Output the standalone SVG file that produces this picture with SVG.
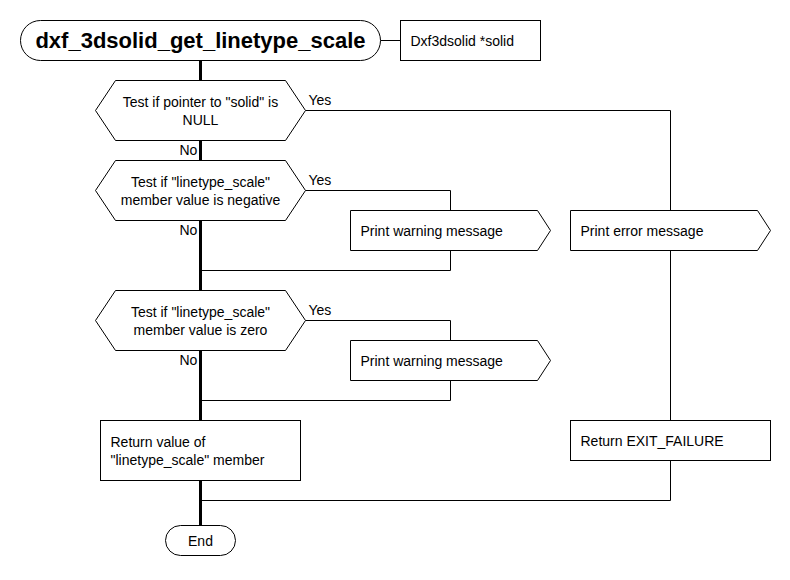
<svg xmlns="http://www.w3.org/2000/svg" width="790" height="580" viewBox="0 0 790 580">
<style>
  text { font-family: "Liberation Sans", Arial, sans-serif; font-size: 14px; fill: #000; dominant-baseline: central; }
  .c { text-anchor: middle; }
  .title { font-size: 22px; font-weight: bold; }
  .shape { fill: #fff; stroke: #000; stroke-width: 1; }
  .ln { fill: none; stroke: #000; stroke-width: 1; }
  .main { fill: none; stroke: #000; stroke-width: 3; }
</style>
<rect width="790" height="580" fill="#fff"/>
<g transform="translate(0.5,0.5)">
<g id="connectors">
  <line class="main" x1="200" y1="60" x2="200" y2="525"/>
  <line class="ln" x1="380" y1="40" x2="400" y2="40"/>
  <polyline class="ln" points="305,110 670,110 670,210"/>
  <line class="ln" x1="670" y1="250" x2="670" y2="420"/>
  <polyline class="ln" points="670,460 670,500 200,500"/>
  <polyline class="ln" points="305,190 450,190 450,210"/>
  <polyline class="ln" points="450,250 450,270 200,270"/>
  <polyline class="ln" points="305,320 450,320 450,340"/>
  <polyline class="ln" points="450,380 450,400 200,400"/>
  <text x="308" y="99">Yes</text>
  <text x="179" y="149">No</text>
  <text x="308" y="179">Yes</text>
  <text x="179" y="229">No</text>
  <text x="308" y="309">Yes</text>
  <text x="179" y="359">No</text>
</g>
<g id="start">
  <rect class="shape" x="20" y="20" width="360" height="40" rx="20" ry="20"/>
  <text class="c title" x="200" y="40">dxf_3dsolid_get_linetype_scale</text>
</g>
<g id="param">
  <rect class="shape" x="400" y="20" width="140" height="40"/>
  <text x="410" y="40">Dxf3dsolid *solid</text>
</g>
<g id="test-null">
  <polygon class="shape" points="95,110 115,80 285,80 305,110 285,140 115,140"/>
  <text class="c" x="200" y="101">Test if pointer to "solid" is</text>
  <text class="c" x="200" y="119">NULL</text>
</g>
<g id="test-negative">
  <polygon class="shape" points="95,190 115,160 285,160 305,190 285,220 115,220"/>
  <text class="c" x="200" y="181">Test if "linetype_scale"</text>
  <text class="c" x="200" y="199">member value is negative</text>
</g>
<g id="warn1">
  <polygon class="shape" points="350,210 537,210 550,230 537,250 350,250"/>
  <text x="360" y="230">Print warning message</text>
</g>
<g id="error">
  <polygon class="shape" points="570,210 757,210 770,230 757,250 570,250"/>
  <text x="580" y="230">Print error message</text>
</g>
<g id="test-zero">
  <polygon class="shape" points="95,320 115,290 285,290 305,320 285,350 115,350"/>
  <text class="c" x="200" y="311">Test if "linetype_scale"</text>
  <text class="c" x="200" y="329">member value is zero</text>
</g>
<g id="warn2">
  <polygon class="shape" points="350,340 537,340 550,360 537,380 350,380"/>
  <text x="360" y="360">Print warning message</text>
</g>
<g id="return-value">
  <rect class="shape" x="100" y="420" width="200" height="60"/>
  <text x="110" y="441">Return value of</text>
  <text x="110" y="459">"linetype_scale" member</text>
</g>
<g id="return-failure">
  <rect class="shape" x="570" y="420" width="200" height="40"/>
  <text x="580" y="440">Return EXIT_FAILURE</text>
</g>
<g id="end">
  <rect class="shape" x="165" y="525" width="70" height="30" rx="15" ry="15"/>
  <text class="c" x="200" y="540">End</text>
</g>
</g>
</svg>
